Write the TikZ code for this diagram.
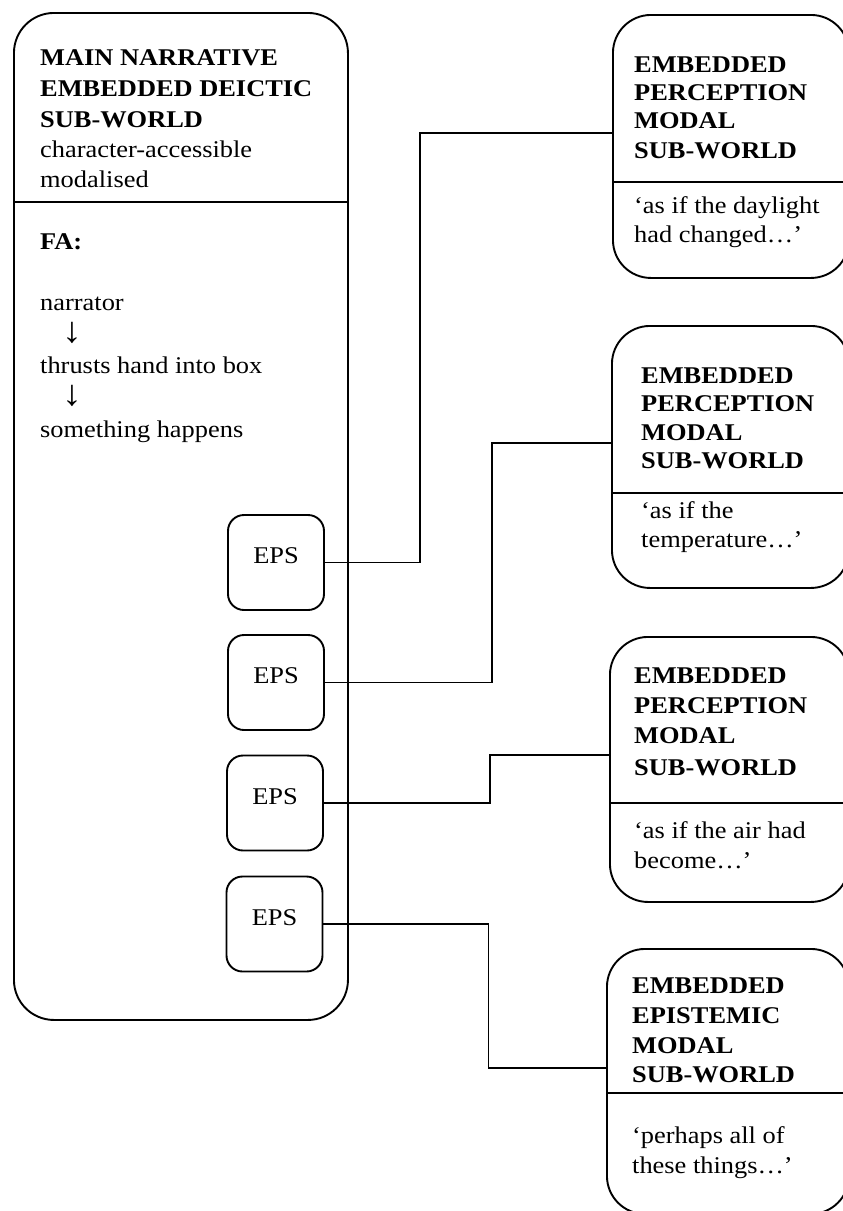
\documentclass[tikz,border=0pt]{standalone}
\usepackage{fontspec}
\setmainfont{Liberation Serif}[FakeStretch=1.1]
\newcommand\dtxt{\fontsize{24}{29}\selectfont}
\newcommand\dbold{\fontsize{24}{29}\selectfont\bfseries}
\newcommand\darr{\fontsize{36}{36}\selectfont}
\begin{document}
\begin{tikzpicture}[x=1pt,y=-1pt,
  world/.style={draw, line width=1.9pt, rounded corners=#1, anchor=north west, inner sep=0pt},
  epsbox/.style={draw, line width=1.9pt, rounded corners=16pt, minimum width=96pt,
    minimum height=95pt, inner sep=0pt, text height=16pt, text depth=14pt, font=\dtxt},
  ln/.style={anchor=base west, inner sep=0pt, font=\dtxt},
  hd/.style={anchor=base west, inner sep=0pt, font=\dbold},
  arr/.style={anchor=base, inner sep=0pt, font=\darr},
  wire/.style={line width=1.9pt},
  rule/.style={line width=1.9pt}]
\path[use as bounding box, clip] (0,0) rectangle (843,1211);
\fill[white] (0,0) rectangle (843,1211);

% main narrative world
\node[world=40pt, minimum width=334pt, minimum height=1007pt] (main) at (13,12) {};
\draw[rule] (main.west |- 0,202) -- (main.east |- 0,202);
\node[hd] (m1) at (40,65)  {MAIN NARRATIVE};
\node[hd] (m2) at (40,96.5) {EMBEDDED DEICTIC};
\node[hd] (m3) at (40,127.5) {SUB-WORLD};
\node[ln] (m4) at (40,157) {character-accessible};
\node[ln] (m5) at (40,187) {modalised};
\node[hd] (fa) at (40,249) {FA:};
\node[ln] (f1) at (40,310) {narrator};
\node[arr] (a1) at (72,342) {↓};
\node[ln] (f2) at (40,373) {thrusts hand into box};
\node[arr] (a2) at (72,405) {↓};
\node[ln] (f3) at (40,437) {something happens};

% embedded perception sub-world pointers
\node[epsbox] (e1) at (276,562.5) {EPS};
\node[epsbox] (e2) at (276,682.5) {EPS};
\node[epsbox] (e3) at (275,803)   {EPS};
\node[epsbox] (e4) at (274.5,924) {EPS};

% embedded sub-worlds
\node[world=38pt, minimum width=236pt, minimum height=263pt] (w1) at (612,14) {};
\draw[rule] (w1.west |- 0,182) -- (w1.east |- 0,182);
\node[hd] (w1a) at (634,72)  {EMBEDDED};
\node[hd] (w1b) at (634,100) {PERCEPTION};
\node[hd] (w1c) at (634,128.5) {MODAL};
\node[hd] (w1d) at (634,158) {SUB-WORLD};
\node[ln] (w1e) at (634,213) {‘as if the daylight};
\node[ln] (w1f) at (634,242) {had changed…’};

\node[world=38pt, minimum width=237pt, minimum height=262pt] (w2) at (611,325) {};
\draw[rule] (w2.west |- 0,493) -- (w2.east |- 0,493);
\node[hd] (w2a) at (641,383)   {EMBEDDED};
\node[hd] (w2b) at (641,411.5) {PERCEPTION};
\node[hd] (w2c) at (641,440)   {MODAL};
\node[hd] (w2d) at (641,468.5) {SUB-WORLD};
\node[ln] (w2e) at (641,518.5) {‘as if the};
\node[ln] (w2f) at (641,547)   {temperature…’};

\node[world=38pt, minimum width=239pt, minimum height=265pt] (w3) at (609,636) {};
\draw[rule] (w3.west |- 0,803) -- (w3.east |- 0,803);
\node[hd] (w3a) at (634,683.5) {EMBEDDED};
\node[hd] (w3b) at (634,713.5) {PERCEPTION};
\node[hd] (w3c) at (634,743.5) {MODAL};
\node[hd] (w3d) at (634,775)   {SUB-WORLD};
\node[ln] (w3e) at (634,838)   {‘as if the air had};
\node[ln] (w3f) at (634,868)   {become…’};

\node[world=38pt, minimum width=242pt, minimum height=265pt] (w4) at (606,948) {};
\draw[rule] (w4.west |- 0,1093) -- (w4.east |- 0,1093);
\node[hd] (w4a) at (632,993)  {EMBEDDED};
\node[hd] (w4b) at (632,1023) {EPISTEMIC};
\node[hd] (w4c) at (632,1053) {MODAL};
\node[hd] (w4d) at (632,1082) {SUB-WORLD};
\node[ln] (w4e) at (632,1143) {‘perhaps all of};
\node[ln] (w4f) at (632,1173) {these things…’};

% connectors
\draw[wire] (e1.east) -- ++(95,0) |- (w1.west |- 0,133);
\draw[wire] (e2.east) -- ++(167,0) |- (w2.west |- 0,443);
\draw[wire] (e3.east) -- ++(166,0) |- (w3.west |- 0,755);
\draw[wire] (e4.east) -- ++(165,0) |- (w4.west |- 0,1068);
\end{tikzpicture}
\end{document}
